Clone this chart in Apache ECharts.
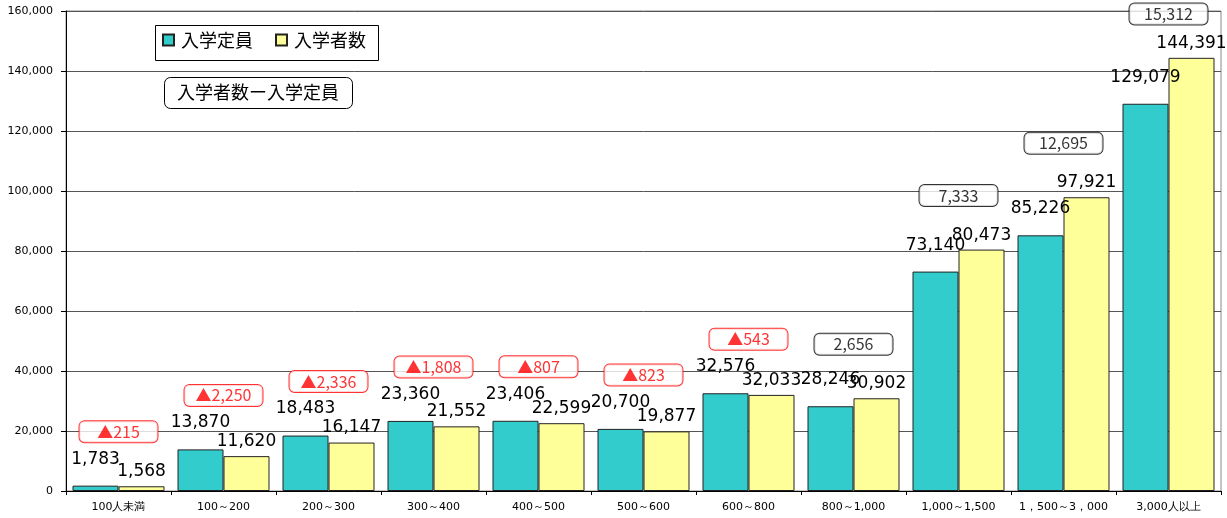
<!DOCTYPE html>
<html><head><meta charset="utf-8">
<script src="https://cdn.jsdelivr.net/npm/echarts@6/dist/echarts.min.js"></script>
<style>html,body{margin:0;padding:0;background:#fff}#c{width:1227px;height:518px}</style>
</head><body><div id="c"></div>
<script>
const categories = ['100人未満','100～200','200～300','300～400','400～500','500～600','600～800','800～1,000','1,000～1,500','1，500～3，000','3,000人以上'];
const capacity = [1783, 13870, 18483, 23360, 23406, 20700, 32576, 28246, 73140, 85226, 129079];
const admitted = [1568, 11620, 16147, 21552, 22599, 19877, 32033, 30902, 80473, 97921, 144391];
const differences = [-215, -2250, -2336, -1808, -807, -823, -543, 2656, 7333, 12695, 15312];
const yTicks = [0, 20000, 40000, 60000, 80000, 100000, 120000, 140000, 160000];

function fmt(n){ return String(Math.abs(n)).replace(/\B(?=(\d{3})+(?!\d))/g, ','); }

const boxData = differences.map((d, i) => {
  const level = Math.min(Math.max(capacity[i], admitted[i]) + 18000, 159000);
  const neg = d < 0;
  return {
    value: [i, level],
    label: { color: neg ? '#ff0000' : '#000', borderColor: neg ? '#ff0000' : '#000' }
  };
});

const chart = echarts.init(document.getElementById('c'), null, {renderer: 'canvas'});
chart.setOption({
  animation: false,
  backgroundColor: '#fff',
  grid: { left: 66, right: 6, top: 11, bottom: 27, show: true, borderColor: '#888', borderWidth: 1 },
  legend: {
    data: ['入学定員', '入学者数'],
    left: 162, top: 31, padding: 0,
    itemWidth: 11, itemHeight: 11, itemGap: 22, icon: 'rect',
    textStyle: { fontFamily: 'Noto Sans CJK JP', fontSize: 18, color: '#000', padding: [0, 0, 0, 2] }
  },
  graphic: [
    { type: 'rect', left: 153, top: 23, shape: { width: 223, height: 35 }, style: { fill: 'none', stroke: '#000', lineWidth: 1 }, z: 10 },
    { type: 'rect', left: 164, top: 77, shape: { width: 188, height: 31, r: 6 }, style: { fill: '#fff', stroke: '#000', lineWidth: 1 }, z: 10 },
    { type: 'text', left: 177, top: 83, style: { text: '入学者数ー入学定員', font: '18px "Noto Sans CJK JP"', fill: '#000' }, z: 11 }
  ],
  xAxis: {
    type: 'category', data: categories,
    axisLine: { lineStyle: { color: '#000', width: 1 } },
    axisTick: { show: true, length: 4, lineStyle: { color: '#000' } },
    axisLabel: { interval: 0, fontFamily: 'DejaVu Sans', fontSize: 11, color: '#000', margin: 11 }
  },
  yAxis: {
    type: 'value', min: 0, max: 160000, interval: 20000,
    axisLine: { show: true, lineStyle: { color: '#000', width: 1 } },
    axisTick: { show: true, length: 5, lineStyle: { color: '#000' } },
    splitLine: { show: true, lineStyle: { color: '#555', width: 1 } },
    axisLabel: { fontFamily: 'DejaVu Sans', fontSize: 11, color: '#000', margin: 13,
      formatter: v => yTicks.includes(v) ? fmt(v) : '' }
  },
  series: [
    {
      name: '入学定員', type: 'bar', data: capacity, barWidth: 46, barGap: '0%',
      itemStyle: { color: '#33cccc', borderColor: '#222', borderWidth: 1 },
      label: { show: true, position: 'top', distance: 18, fontFamily: 'DejaVu Sans', fontSize: 17, color: '#000', formatter: p => fmt(p.value) },
      z: 2
    },
    {
      name: '入学者数', type: 'bar', data: admitted, barWidth: 46,
      itemStyle: { color: '#ffff99', borderColor: '#222', borderWidth: 1 },
      label: { show: true, position: 'top', distance: 6, fontFamily: 'DejaVu Sans', fontSize: 17, color: '#000', formatter: p => fmt(p.value) },
      z: 2
    },
    {
      name: '差', type: 'scatter', data: boxData, symbolSize: 1, clip: false,
      itemStyle: { color: 'rgba(0,0,0,0)' },
      label: {
        show: true, position: 'inside', backgroundColor: '#fff', borderWidth: 1, borderRadius: 5,
        padding: [2, 5], width: 68, align: 'center', fontFamily: 'Noto Sans CJK JP', fontSize: 16, lineHeight: 17,
        formatter: p => { const d = differences[p.dataIndex]; return (d < 0 ? '▲' : '') + fmt(d); }
      },
      z: 5
    }
  ]
});
</script></body></html>
